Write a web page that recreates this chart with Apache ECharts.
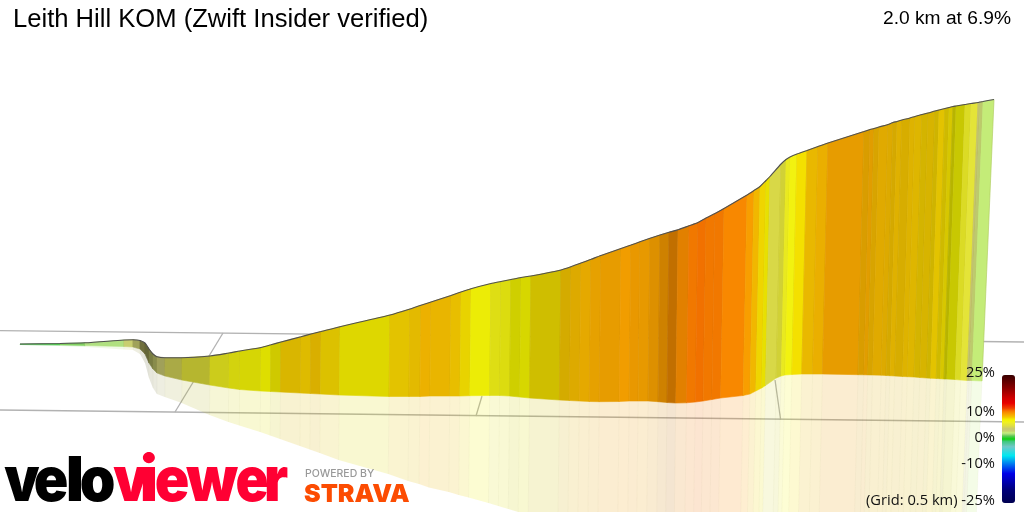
<!DOCTYPE html>
<html><head><meta charset="utf-8">
<style>html,body{margin:0;padding:0;background:#fff}#c{width:1024px;height:512px}</style>
<script src="https://cdn.jsdelivr.net/npm/echarts@6/dist/echarts.min.js"></script>
</head><body><div id="c"></div>
<script>
const titleText = 'Leith Hill KOM (Zwift Insider verified)';
const summaryText = '2.0 km at 6.9%';
const legendTicks = [['25%',373],['10%',412],['0%',438],['-10%',464],['(Grid: 0.5 km) -25%',501]];

// Stations along the climb, in projected chart units
const stationX = [20,60,85,124,133,140,145,149,153,157,
165,182,210,229,240,261,271,281,301,311,
321,340,390,410,421,431,451,461,471,491,
501,511,521,531,561,571,581,591,601,621,
631,640,650,660,669,678,689,698,706,715,
724,747,754,760,766,770,781,786,790,797,
807,818,828,864,870,874,879,888,893,897,
902,910,915,922,928,935,939,945,949,953,
956,965,971,978,980,983,994];
const topY = [344,343.5,342.8,340,339.7,340.5,343,349,354,356.7,
357.7,357.7,356,353,351,347.5,344.8,342,336.7,334,
331.5,326.7,315,309,305.2,302,295.5,292,288.7,283.5,
281.5,279.5,277.5,276,270,266.8,263,259.3,255.5,248.5,
245,241.8,238.3,235,232.3,229.8,225.8,222.5,218,213.5,
208.5,195,190.5,186.5,180.5,176.5,164,159.5,157,154,
150.5,146.5,143,131.5,129.5,128.5,127,124.5,122.5,121.5,
120,118,116.5,114.5,113,111,110,108.5,107.5,106.5,
106,104.5,103.5,102.5,102,101.5,99.5];
const baseY = [344.5,345,345.5,346.5,347,349,354,363,369,373,
376,380,385,388,389.5,391,391.5,392,393,393.5,
394,395,396.5,396.5,396.5,396,396,396,395.7,395.5,
395.5,396,397,398,400,400.5,401,401.5,401.7,401.5,
401,401,401,401.7,402.5,403,402.8,402,401,399.5,
398,395.5,394,391,388,385.5,378,376,375,374.5,
374,374,374,374.7,374.8,374.9,375,375.2,375.5,375.7,
376,376.5,376.7,377,377.5,378,378.2,378.5,378.7,379,
379,379.5,380,380.5,380.5,380.5,381];
const shadowY = [345,346,347,349.5,350,354,363,378,388,394,
397,403,415,422,425.5,432,435.5,439,446,449.5,
453,460,474,481,484,487.5,492,495,497.5,503,
506,509,512];

// Gradient (%) and lighting of each stripe between two stations
const gradePct = [1,1.5,2,3.2,3.5,4,3.5,3.2,3.2,4,
4.6,5.5,6.5,7,7.3,7.5,7.7,8.4,8.4,8.6,
8.2,7.7,8.3,8.5,9,8.8,8.5,8.05,7.3,6.8,
7,7.5,7.5,8,8.6,8.85,9.05,9.35,9.5,9.7,
9.7,9.6,9.7,9.9,10.3,10.35,10.8,11,10.8,10.8,
10.5,9.8,8.9,8.15,7.7,5,5.5,6.5,7,8,
8.7,9,9.5,9.2,9.35,8.95,8.9,8.85,8.7,8.7,
8.6,8.6,8.5,8.35,8.4,8.25,8.3,8.1,7.95,7.6,
7.4,6.2,5.6,4,3,2.5];
const lighting = [1,1,1,1,.8,.56,.5,.6,.68,.8,
.8,.8,.85,.87,.88,.91,.85,.89,.91,.89,
.9,.91,.93,.93,.96,.95,.95,.95,.97,.92,
.91,.85,.88,.85,.87,.9,.93,.93,.93,.97,
.94,.93,.89,.83,.78,.91,.97,.97,.97,.97,
1,1,.98,.98,.95,.98,.92,.97,1,1,
.95,.95,.93,.88,.91,.88,.91,.9,.87,.91,
.88,.91,.91,.87,.88,.85,.93,.85,.88,.75,
.82,.93,1,.97,.95,1];

// Ground grid lines, projected
const gridBack = [[0,330.7],[1024,342]];
const gridFront = [[0,410],[1024,422]];
const gridCross1 = [[175,412],[223,333]];
const gridCross2 = [[476,416],[482,396]];
const gridCross3 = [[780.7,420],[775,380]];

// Gradient colour scale: [grade %, colour]
const rampStops = [[-25,'#000050'],[-20,'#000078'],[-13.5,'#0000e8'],[-10,'#0070f0'],[-6.5,'#00e8f0'],[-3,'#70c8c8'],[-1,'#40c880'],
[0,'#10d010'],[1,'#50c850'],[1.5,'#80d060'],[2,'#b0e080'],[2.5,'#c4ec78'],[3.2,'#c8cc70'],[4,'#c8c870'],[5,'#dcdc48'],[6.5,'#f0f020'],[7,'#f2f210'],[7.5,'#f4f400'],
[8,'#f4e000'],[8.5,'#f4c800'],[9,'#f6b800'],[9.5,'#f8a800'],[10.5,'#f88800'],[11,'#f87400'],[12,'#f04000'],[14,'#e80000'],[16,'#d00000'],[20,'#880000'],[25,'#380000']];

// Perspective lean of verticals: [x, lean over wall height]
const leanKnots = [[0,0],[150,0],[669,2],[790,5],[865,6],[953,9],[994,12]];

// Logo letters: [glyph, centre, scale]
const logoBlack = [['v',22,.9],['e',51,.92],['l',75,1],['o',97.5,.92]];
const logoRed = [['v',131,.9],['i',149,1],['e',172,.92],['w',212,.95],['e',252,.88],['r',276,.9]];

const AXIS_W = 1024, AXIS_H = 512;

function rampColor(g){
  for(let k=1;k<rampStops.length;k++){
    if(g<=rampStops[k][0]){
      const [a,ca]=rampStops[k-1],[b,cb]=rampStops[k];
      return echarts.color.lerp((g-a)/(b-a),[ca,cb]);
    }
  }
  return rampStops[rampStops.length-1][1];
}
const visualColors=[]; for(let g=-25;g<=25;g+=0.25) visualColors.push(rampColor(g));

function lean(x){
  for(let k=1;k<leanKnots.length;k++){
    if(x<=leanKnots[k][0]){
      const [a,la]=leanKnots[k-1],[b,lb]=leanKnots[k];
      return la+(lb-la)*(x-a)/(b-a);
    }
  }
  return leanKnots[leanKnots.length-1][1];
}
const baseXOf=i=>stationX[i]-lean(stationX[i]);
function shadowPt(i){
  const y=i<shadowY.length?shadowY[i]:AXIS_H;
  const rate=lean(stationX[i])/Math.max(1,baseY[i]-topY[i]);
  return [baseXOf(i)-rate*(y-baseY[i]),y];
}
function tint(c,l,a){
  const p=echarts.color.parse(c);
  return `rgba(${Math.round(p[0]*l)},${Math.round(p[1]*l)},${Math.round(p[2]*l)},${a})`;
}

function renderWall(params,api){
  const i=api.value(0), col=tint(api.visual('color'),api.value(2),1);
  const pts=[[stationX[i],topY[i]],[stationX[i+1],topY[i+1]],[baseXOf(i+1),baseY[i+1]],[baseXOf(i),baseY[i]]].map(p=>api.coord(p));
  return {type:'group',children:[
    {type:'polygon',shape:{points:pts},style:{fill:col,stroke:col,lineWidth:.6}},
    {type:'line',shape:{x1:pts[1][0],y1:pts[1][1],x2:pts[2][0],y2:pts[2][1]},style:{stroke:'rgba(90,70,0,0.13)',lineWidth:1}}
  ]};
}
function renderShadow(params,api){
  const i=api.value(0), col=tint(api.visual('color'),api.value(2),.18);
  const s0=shadowPt(i), s1=shadowPt(i+1);
  const pts=[[baseXOf(i),baseY[i]],[baseXOf(i+1),baseY[i+1]],s1,s0].map(p=>api.coord(p));
  return {type:'group',children:[
    {type:'polygon',shape:{points:pts},style:{fill:col}},
    {type:'line',shape:{x1:pts[1][0],y1:pts[1][1],x2:pts[2][0],y2:pts[2][1]},style:{stroke:'rgba(120,100,40,0.035)',lineWidth:1}}
  ]};
}
const stripeRows=gradePct.map((g,i)=>[i,g,lighting[i]]);
const gridSeries=d=>({type:'line',data:d,symbol:'none',silent:true,z:1,lineStyle:{color:'#b2b2b2',width:1.3}});
const logoFont='900 62px Inter';
const logoLetter=(l,fill)=>({type:'text',z:50,x:l[1],y:513,scaleX:l[2],style:{text:l[0],fill,font:logoFont,textAlign:'center',textVerticalAlign:'bottom'}});

const chart=echarts.init(document.getElementById('c'),null,{renderer:'canvas'});
chart.setOption({
  animation:false,backgroundColor:'#fff',
  title:{text:titleText,left:13,top:7,padding:0,textStyle:{fontFamily:'Liberation Sans',fontWeight:'normal',fontSize:25.6,color:'#000'}},
  grid:{left:0,right:0,top:0,bottom:0},
  xAxis:{type:'value',min:0,max:AXIS_W,show:false},
  yAxis:{type:'value',min:0,max:AXIS_H,inverse:true,show:false},
  visualMap:{type:'continuous',min:-25,max:25,dimension:1,seriesIndex:[5,6],left:1002,top:375,itemWidth:13,itemHeight:128,padding:0,
    text:null,showLabel:false,calculable:false,hoverLink:false,realtime:false,inRange:{color:visualColors},z:20},
  series:[
    gridSeries(gridBack),gridSeries(gridFront),gridSeries(gridCross1),gridSeries(gridCross2),gridSeries(gridCross3),
    {type:'custom',name:'shadow',renderItem:renderShadow,data:stripeRows,encode:{x:0,y:1},silent:true,clip:false,z:2},
    {type:'custom',name:'wall',renderItem:renderWall,data:stripeRows,encode:{x:0,y:1},silent:true,clip:false,z:3},
    {type:'line',name:'profile',data:stationX.map((x,i)=>[x,topY[i]]),symbol:'none',silent:true,z:4,smooth:.25,lineStyle:{color:'#505050',width:1.1}}
  ],
  graphic:[
    {type:'text',z:50,x:1011,y:9,style:{text:summaryText,fill:'#000',font:'19.2px "Liberation Sans"',textAlign:'right'}},
    ...legendTicks.map(t=>({type:'text',z:50,x:995,y:t[1],style:{text:t[0],fill:'#111',font:'14.7px "Open Sans"',textAlign:'right',textVerticalAlign:'middle'}})),
    ...logoBlack.map(l=>logoLetter(l,'#000')),
    ...logoRed.map(l=>logoLetter(l,'#ff0033')),
    {type:'text',z:50,x:305,y:468,style:{text:'POWERED BY',fill:'#999',font:'500 10.5px Inter'}},
    {type:'text',z:50,x:304,y:482,style:{text:'STRAVA',fill:'#fc4c02',font:'900 25px Inter'}}
  ]
});
</script></body></html>
